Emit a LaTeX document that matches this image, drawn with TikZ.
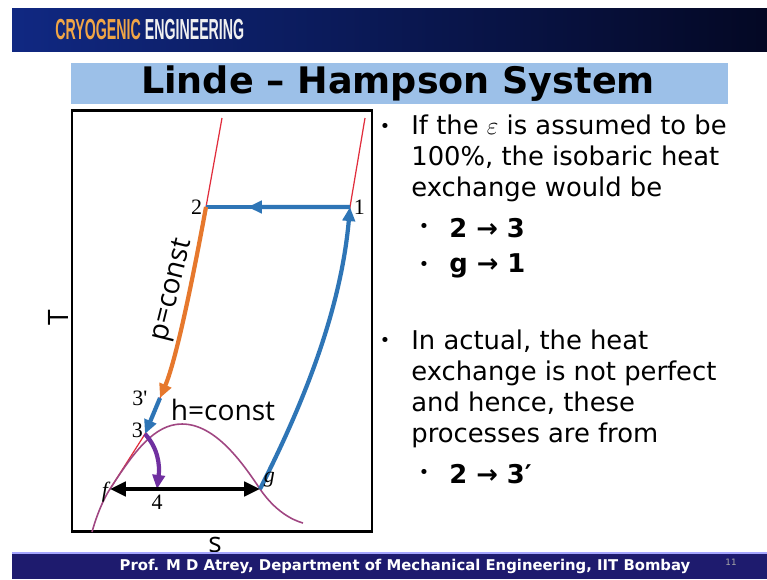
\documentclass[tikz,border=0pt]{standalone}
\usepackage{fontspec}
\setmainfont{DejaVu Sans}
\newfontfamily\serifpt{Liberation Serif}
\newfontfamily\headfont{Liberation Sans}
\newfontfamily\labelfont{Open Sans}
\usetikzlibrary{arrows.meta,calc,positioning}
\definecolor{bannerleft}{RGB}{16,40,130}
\definecolor{bannerright}{RGB}{4,8,36}
\definecolor{headorange}{RGB}{240,165,70}
\definecolor{titleblue}{RGB}{156,192,232}
\definecolor{footblue}{RGB}{30,27,110}
\definecolor{procblue}{RGB}{46,117,182}
\definecolor{procorange}{RGB}{230,120,45}
\definecolor{procpurple}{RGB}{112,48,160}
\definecolor{isored}{RGB}{225,45,60}
\definecolor{domemauve}{RGB}{160,70,130}
\tikzset{
    isobar/.style={isored, line width=0.7pt},
    dome/.style={domemauve, line width=0.9pt},
    proc/.style={line width=2.4pt, -{Triangle[length=8pt,width=7pt]}},
    ptlabel/.style={font=\serifpt\fontsize{12.5}{12.5}\selectfont, inner sep=1pt},
    curvelabel/.style={font=\labelfont\fontsize{16}{16}\selectfont, inner sep=0pt},
    bodytext/.style={font=\fontsize{14.7}{17.6}\selectfont, align=left, inner sep=0pt, anchor=north west},
    subitem/.style={font=\bfseries\fontsize{14.7}{14.7}\selectfont, inner sep=0pt, anchor=west},
    bulletdot/.style={font=\fontsize{10}{10}\selectfont, inner sep=0pt},
}
\begin{document}
\begin{tikzpicture}[x=0.02cm, y=-0.02cm]
    \useasboundingbox (0,0) rectangle (767,579);
    \fill[white] (0,0) rectangle (767,579);

    % banner and title
    \shade[left color=bannerleft, right color=bannerright] (12,8) rectangle (767,51);
    \node[anchor=west, inner sep=0pt, font=\headfont\bfseries\fontsize{16.5}{16.5}\selectfont] (head) at (55,30)
        {\scalebox{0.49}[1]{\textcolor{headorange}{CRYOGENIC} \textcolor{white!94!black}{ENGINEERING}}};
    \fill[titleblue] (71,63) rectangle (728,104);
    \node[font=\bfseries\fontsize{20.8}{20.8}\selectfont, inner sep=0pt] (title) at (398,84) {Linde – Hampson System};

    % T-s chart
    \draw[line width=1.7pt] (72,110) rectangle (372,531);
    \coordinate (topL) at (222,118);
    \coordinate (topR) at (365,118);
    \coordinate (p1) at (350,207);
    \coordinate (p2) at (206,207);
    \coordinate (p3a) at (160,398);
    \coordinate (p3) at (145,434);
    \coordinate (pf) at (110,489);
    \coordinate (pg) at (260,489);
    \coordinate (p4) at (157,489);

    \draw[isobar] (topL) -- (p2) .. controls (195,267) and (177,358) .. (p3a) -- (p3) -- (pf);
    \draw[isobar] (topR) -- (p1) .. controls (340,320) and (295,420) .. (pg);
    \draw[dome] (92,532) .. controls (97,514) and (104,498) .. (pf)
        .. controls (135,450) and (155,424) .. (182,424)
        .. controls (215,424) and (242,462) .. (pg)
        .. controls (275,511) and (292,520) .. (303,523);

    \draw[procblue, line width=2.4pt] (p1) -- (p2);
    \draw[proc, procblue] (p1) -- ($(p1)!0.71!(p2)$);
    \draw[proc, procblue] (pg) .. controls (295,420) and (340,320) .. (p1);
    \draw[proc, procorange] (p2) .. controls (195,267) and (177,358) .. (p3a);
    \draw[proc, procblue] (p3a) -- (p3);
    \draw[proc, procpurple] (p3) .. controls (158,448) and (160,465) .. (p4);
    \draw[line width=2.4pt, {Triangle[length=9pt,width=8pt]}-{Triangle[length=9pt,width=8pt]}] (pf) -- (pg);

    \node[ptlabel, left=1pt of p2] (l2) {2};
    \node[ptlabel, right=1pt of p1] (l1) {1};
    \node[ptlabel, left=6pt of p3a] (l3a) {3'};
    \node[ptlabel, left=0pt of p3, yshift=2pt] (l3) {3};
    \node[ptlabel, left=0pt of pf, yshift=-2pt] (lf) {\itshape f};
    \node[ptlabel, above right=0pt and 1pt of pg] (lg) {\itshape g};
    \node[ptlabel, below=2pt of p4] (l4) {4};
    \node[curvelabel] (hconst) at (223,410) {h=const};
    \node[curvelabel, rotate=76] (pconst) at (173,290) {p=const};
    \node[curvelabel, rotate=90] (axT) at (58,318) {T};
    \node[curvelabel] (axs) at (215,545) {s};

    % bullet text
    \node[bulletdot] (d1) at (385,128) {•};
    \node[bodytext] (para1) at (411,115) {If the $\varepsilon$ is assumed to be\\100\%, the isobaric heat\\exchange would be};
    \node[bulletdot] (d2) at (424,228) {•};
    \node[subitem] (s1) at (449,228) {2 → 3};
    \node[bulletdot] (d3) at (424,266) {•};
    \node[subitem] (s2) at (449,266) {g → 1};
    \node[bulletdot] (d4) at (385,342) {•};
    \node[bodytext] (para2) at (411,330) {In actual, the heat\\exchange is not perfect\\and hence, these\\processes are from};
    \node[bulletdot] (d5) at (424,474) {•};
    \node[subitem] (s3) at (449,474) {2 → 3′};

    % footer
    \fill[footblue] (12,553) rectangle (767,579);
    \draw[blue!35!white, line width=0.8pt] (12,553) -- (767,553);
    \node[text=white, font=\bfseries\fontsize{8.45}{8.45}\selectfont, inner sep=0pt] (foot) at (405,566)
        {Prof. M D Atrey, Department of Mechanical Engineering, IIT Bombay};
    \node[text=gray!70, font=\fontsize{5}{5}\selectfont, inner sep=0pt] (pageno) at (731,562) {11};
\end{tikzpicture}
\end{document}
